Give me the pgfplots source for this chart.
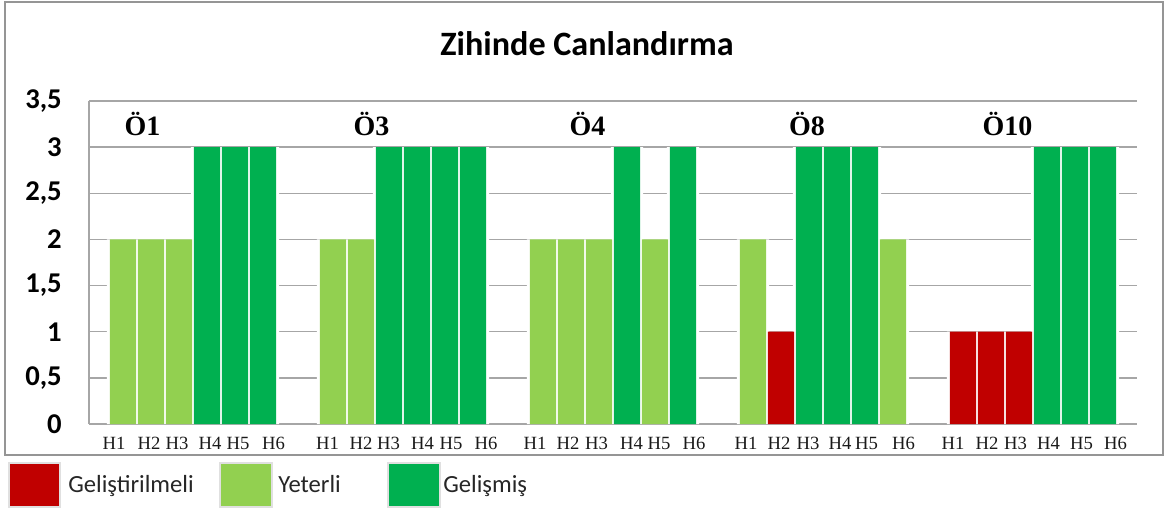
\documentclass[border=0pt]{standalone}
\usepackage{pgfplots}
\pgfplotsset{compat=1.18}
\usepackage{fontspec}
\setmainfont{Carlito}
\newfontfamily\serif{Liberation Serif}
\definecolor{cred}{HTML}{C00000}
\definecolor{clg}{HTML}{92D050}
\definecolor{cdg}{HTML}{00B050}
\definecolor{gridgray}{HTML}{A6A6A6}
\definecolor{framegray}{HTML}{959595}
\definecolor{lblack}{HTML}{1A1A1A}
\begin{document}
\begin{tikzpicture}
\useasboundingbox (0,0) rectangle (1165*0.75pt,-511*0.75pt);
\draw[framegray, line width=1.6pt] (5*0.75pt,-2*0.75pt) rectangle (1163*0.75pt,-455*0.75pt);
\node[anchor=base, font=\fontsize{25.6}{30}\selectfont\bfseries] at (587*0.75pt,-55*0.75pt) {Zihinde Canlandırma};
\begin{axis}[
  at={(89*0.75pt,-424*0.75pt)}, anchor=south west,
  scale only axis, width=786pt, height=242.25pt,
  xmin=-1.214, xmax=36.214, ymin=0, ymax=3.5,
  axis line style={draw=none},
  tick style={draw=none},
  ymajorgrids, grid style={gridgray, line width=1.1pt},
  ytick={0,0.5,1,1.5,2,2.5,3,3.5},
  yticklabels={0,{0,5},1,{1,5},2,{2,5},3,{3,5}},
  yticklabel style={anchor=east, inner sep=0pt, xshift=-20.25pt, font=\fontsize{21.5}{25}\selectfont\bfseries},
  xtick={-0.321,0.929,1.929,3.107,4.107,5.375,
         7.304,8.5,9.482,10.696,11.714,12.964,
         14.714,15.893,16.911,18.161,19.143,20.393,
         22.25,23.429,24.464,25.607,26.554,27.875,
         29.643,30.857,31.875,33.054,34.232,35.446},
  xticklabels={H1,H2,H3,H4,H5,H6,H1,H2,H3,H4,H5,H6,H1,H2,H3,H4,H5,H6,H1,H2,H3,H4,H5,H6,H1,H2,H3,H4,H5,H6},
  xticklabel style={anchor=north, inner sep=0pt, yshift=-5.5pt, text=lblack, font=\fontsize{14}{16}\selectfont\serif},
  ybar, bar shift=0pt,
  clip=false,
]
% white halo behind bars
\addplot[fill=white, draw=none, bar width=1.15] coordinates {
 (0,2)(1,2)(2,2)(3,3)(4,3)(5,3)
 (7.5,2)(8.5,2)(9.5,3)(10.5,3)(11.5,3)(12.5,3)
 (15,2)(16,2)(17,2)(18,3)(19,2)(20,3)
 (22.5,2)(23.5,1)(24.5,3)(25.5,3)(26.5,3)(27.5,2)
 (30,1)(31,1)(32,1)(33,3)(34,3)(35,3)};
% Gelistirilmeli
\addplot[fill=cred, draw=none, bar width=0.93] coordinates {
 (23.5,1)(30,1)(31,1)(32,1)};
% Yeterli
\addplot[fill=clg, draw=none, bar width=0.93] coordinates {
 (0,2)(1,2)(2,2)(7.5,2)(8.5,2)(15,2)(16,2)(17,2)(19,2)(22.5,2)(27.5,2)};
% Gelismis
\addplot[fill=cdg, draw=none, bar width=0.93] coordinates {
 (3,3)(4,3)(5,3)(9.5,3)(10.5,3)(11.5,3)(12.5,3)(18,3)(20,3)(24.5,3)(25.5,3)(26.5,3)(33,3)(34,3)(35,3)};
\node[anchor=base, font=\fontsize{21}{24}\selectfont\serif\bfseries] at (axis cs:0.70,3.13) {Ö1};
\node[anchor=base, font=\fontsize{21}{24}\selectfont\serif\bfseries] at (axis cs:8.875,3.13) {Ö3};
\node[anchor=base, font=\fontsize{21}{24}\selectfont\serif\bfseries] at (axis cs:16.59,3.13) {Ö4};
\node[anchor=base, font=\fontsize{21}{24}\selectfont\serif\bfseries] at (axis cs:24.43,3.13) {Ö8};
\node[anchor=base, font=\fontsize{21}{24}\selectfont\serif\bfseries] at (axis cs:31.59,3.13) {Ö10};
\end{axis}
\draw[gridgray, line width=1.1pt] (89*0.75pt,-101*0.75pt) -- (89*0.75pt,-424*0.75pt);
% legend
\draw[fill=cred, draw=black!12, line width=0.8pt] (9*0.75pt,-463*0.75pt) rectangle (60*0.75pt,-507*0.75pt);
\draw[fill=clg, draw=black!12, line width=0.8pt] (220*0.75pt,-463*0.75pt) rectangle (272*0.75pt,-507*0.75pt);
\draw[fill=cdg, draw=black!12, line width=0.8pt] (388*0.75pt,-463*0.75pt) rectangle (440*0.75pt,-507*0.75pt);
\node[anchor=base west, inner sep=0pt, text=black!85, font=\fontsize{18.5}{22}\selectfont] at (68*0.75pt,-492*0.75pt) {Geliştirilmeli};
\node[anchor=base west, inner sep=0pt, text=black!85, font=\fontsize{18.5}{22}\selectfont] at (278*0.75pt,-492*0.75pt) {Yeterli};
\node[anchor=base west, inner sep=0pt, text=black!85, font=\fontsize{18.5}{22}\selectfont] at (443*0.75pt,-492*0.75pt) {Gelişmiş};
\end{tikzpicture}
\end{document}
